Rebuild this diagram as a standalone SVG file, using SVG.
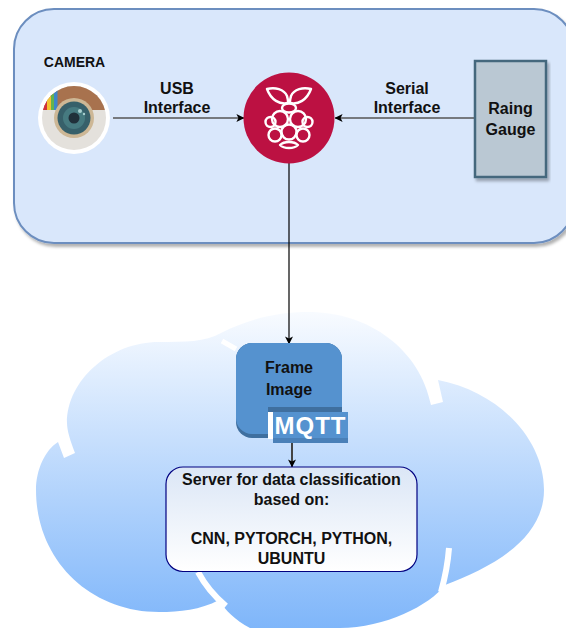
<svg xmlns="http://www.w3.org/2000/svg" width="566" height="628" viewBox="0 0 566 628">
<style>
text{font-family:"Liberation Sans",Arial,sans-serif;font-weight:bold;fill:#111;text-anchor:middle}
.lbl{font-size:16px}
.big{font-size:16px}
.srv{font-size:16px}
.edge{fill:none;stroke:#555;stroke-width:1.5}
.berry{fill:none;stroke:#fff;stroke-width:2.4;stroke-linejoin:round}
</style>
<defs>
<linearGradient id="cloudFill" gradientUnits="userSpaceOnUse" x1="0" y1="312" x2="0" y2="628">
<stop offset="0" stop-color="#f8fbff"/><stop offset="1" stop-color="#7fb6fa"/>
</linearGradient>
<linearGradient id="srvFill" x1="0" y1="0" x2="0" y2="1">
<stop offset="0" stop-color="#dbe6f6"/><stop offset="1" stop-color="#ffffff"/>
</linearGradient>
<filter id="soft" x="-5%" y="-5%" width="112%" height="112%"><feDropShadow dx="2" dy="3" stdDeviation="1.5" flood-color="#000" flood-opacity=".3"/></filter>
<marker id="arrow" viewBox="0 0 10 10" refX="9.5" refY="5" markerWidth="8" markerHeight="8" markerUnits="userSpaceOnUse" orient="auto"><path d="M0,0 L10,5 L0,10 L2.5,5 Z" fill="#000"/></marker>
<clipPath id="camClip"><circle cx="74" cy="118" r="32"/></clipPath>
</defs>

<g id="device-panel"><rect x="14" y="9" width="560" height="234" rx="40" fill="#d9e7fb" stroke="#6c8ebf" stroke-width="2" filter="url(#soft)"/></g>

<g id="cloud">
<path d="M221,333 C250,318 280,312 308,312 C370,312 420,350 431,405 L443,402 L438,380 C500,392 544,440 544,490 C544,540 490,568 445,585 C430,605 385,628 340,628 L250,628 C235,620 225,610 219,600 C200,610 180,612 159,612 C90,612 36,560 36,490 C36,470 45,450 58,442 L64,458 L75,453 C70,440 67,430 67,423 C67,380 110,342 159,342 C185,342 205,342 221,333 Z" fill="url(#cloudFill)"/>
<path d="M222,341 L236,349" stroke="#fff" stroke-width="5" fill="none"/>
<path d="M198,572 C205,585 215,597 226,606" stroke="#fff" stroke-width="6" fill="none"/>
<path d="M449,548 C448,562 446,574 441,592" stroke="#fff" stroke-width="6" fill="none"/>
</g>

<g id="connectors">
<line class="edge" x1="113" y1="118" x2="244" y2="118" marker-end="url(#arrow)"/>
<line class="edge" x1="474" y1="118" x2="335" y2="118" marker-end="url(#arrow)"/>
<line x1="289" y1="163" x2="289" y2="344" stroke="#000" stroke-width="1.2" marker-end="url(#arrow)"/>
<line x1="292" y1="443" x2="292" y2="467" stroke="#444" stroke-width="2" marker-end="url(#arrow)"/>
</g>

<g id="camera">
<circle cx="74" cy="118" r="36" fill="#fff"/>
<circle cx="74" cy="118" r="32" fill="#e4e1dc"/>
<g clip-path="url(#camClip)">
<rect x="40" y="84" width="70" height="26" fill="#a8724e"/>
<rect x="42" y="84" width="5" height="26" fill="#d2303a"/>
<rect x="47" y="84" width="4" height="26" fill="#f2c230"/>
<rect x="51" y="84" width="3" height="26" fill="#63b34f"/>
<rect x="54" y="84" width="3.500" height="26" fill="#3f86c8"/>
</g>
<circle cx="74" cy="118" r="20" fill="#cdb795"/>
<circle cx="74" cy="118" r="16.500" fill="#37606a"/>
<circle cx="74" cy="118" r="11" fill="#467a80"/>
<circle cx="74" cy="118" r="5.500" fill="#20303a"/>
<circle cx="80" cy="111" r="2" fill="#a9cfcf"/>
<circle cx="84" cy="114" r="1.200" fill="#a9cfcf"/>
<text x="74.500" y="67" style="font-size:14px">CAMERA</text>
</g>

<text class="lbl" x="177" y="94">USB</text>
<text class="lbl" x="177" y="113">Interface</text>
<text class="lbl" x="407" y="94">Serial</text>
<text class="lbl" x="407" y="113">Interface</text>

<g id="raspberry-pi">
<circle cx="289" cy="118" r="45.500" fill="#bc1142"/>
<path class="berry" d="M267,89 C275,87 284,89 287,96 C288,99 288,101 288,103 C280,105 271,100 267,89 Z"/>
<path class="berry" d="M311,89 C303,87 294,89 291,96 C290,99 290,101 290,103 C298,105 307,100 311,89 Z"/>
<ellipse class="berry" cx="289" cy="108" rx="7" ry="4.500"/>
<circle class="berry" cx="280" cy="119" r="8"/>
<circle class="berry" cx="298" cy="119" r="8"/>
<circle class="berry" cx="270.500" cy="122" r="5"/>
<circle class="berry" cx="307.500" cy="122" r="5"/>
<circle class="berry" cx="275" cy="135" r="6.500"/>
<circle class="berry" cx="303" cy="135" r="6.500"/>
<circle class="berry" cx="289" cy="132" r="7.500"/>
<path class="berry" d="M280,145 C284,149 294,149 298,145 C294,141 284,141 280,145 Z"/>
</g>

<g id="rain-gauge">
<rect x="475" y="61" width="71" height="116" fill="#bac8d3" stroke="#45687d" stroke-width="2.500" filter="url(#soft)"/>
<text class="big" x="510.500" y="114">Raing</text>
<text class="big" x="510.500" y="135">Gauge</text>
</g>

<g id="frame-image">
<rect x="236" y="343" width="106" height="95" rx="16" fill="#3f6f9f"/>
<path d="M252,343 H326 A16,16 0 0 1 342,359 V410 H268 V434 H252 A16,16 0 0 1 236,418 V359 A16,16 0 0 1 252,343 Z" fill="#5592cf"/>
<rect x="268" y="407" width="74" height="5" fill="#3f6f9f"/>
<rect x="268" y="412" width="5" height="27" fill="#fff"/>
<rect x="273" y="412" width="75" height="31" fill="#5592cf"/>
<rect x="273" y="438" width="75" height="5" fill="#4a80b8"/>
<text class="big" x="289" y="373">Frame</text>
<text class="big" x="289" y="395">Image</text>
<text x="310.500" y="434" style="font-size:24px;letter-spacing:1px;fill:#fff">MQTT</text>
</g>

<g id="server">
<rect x="166" y="467" width="251" height="104.500" rx="17" fill="url(#srvFill)" stroke="#000080" stroke-width="1.200"/>
<text class="srv" x="291.500" y="485">Server for data classification</text>
<text class="srv" x="291.500" y="505">based on:</text>
<text class="srv" x="291.500" y="544">CNN, PYTORCH, PYTHON,</text>
<text class="srv" x="291.500" y="564">UBUNTU</text>
</g>
</svg>
